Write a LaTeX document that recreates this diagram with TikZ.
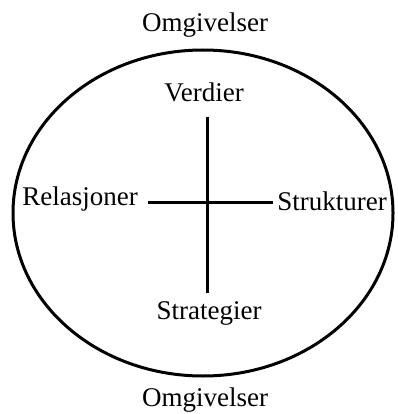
\documentclass[tikz,border=0pt]{standalone}
\usepackage{fontspec}
\setmainfont{Liberation Serif}
\begin{document}
\begin{tikzpicture}[x=1pt,y=-1pt,
  lbl/.style={inner sep=0pt, font=\fontsize{27}{29}\selectfont},
  ln/.style={line width=3pt}]
\useasboundingbox (0,0) rectangle (397,414);
\node[lbl] (omtop) at (205,25) {Omgivelser};
\node[lbl] (ombot) at (205,400) {Omgivelser};
\draw[ln] (203,213) ellipse [x radius=190, y radius=163];
\node[lbl] (verd) at (204,92) {Verdier};
\node[lbl] (strat) at (209,313) {Strategier};
\node[lbl] (rel) at (80,199) {Relasjoner};
\node[lbl] (struk) at (332,201) {Strukturer};
\draw[ln] ([yshift=-15]verd.south -| 207,0) -- ([yshift=8]strat.north -| 207,0);
\draw[ln] ([xshift=10]rel.east |- 0,202) -- ([xshift=-4]struk.west |- 0,202);
\end{tikzpicture}
\end{document}
